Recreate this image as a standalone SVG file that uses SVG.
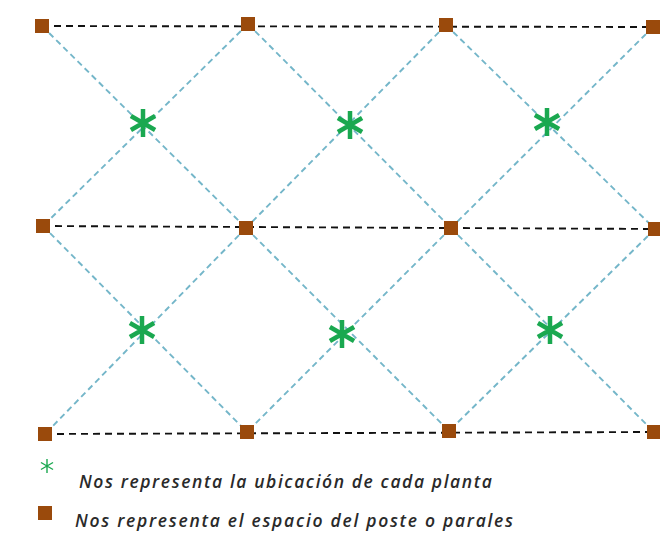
<svg xmlns="http://www.w3.org/2000/svg" width="660" height="535" viewBox="0 0 660 535">
<style>
.row{stroke:#111;stroke-width:1.9;stroke-dasharray:7 5;fill:none}
.diag{stroke:#74b6c9;stroke-width:1.9;stroke-dasharray:6 4;fill:none}
.post{fill:#9a4a0c}
.plant{stroke:#1aa850;stroke-width:4.5;stroke-linecap:butt;fill:none}
.legend{font-family:"Open Sans","Liberation Sans",Arial,sans-serif;font-style:italic;font-weight:600;font-size:17.5px;fill:#2a2a2a}
</style>
<defs>
<g id="ast">
<path d="M0,-14V14M-12.1,-7L12.1,7M-12.1,7L12.1,-7"/>
</g>
</defs>
<rect width="660" height="535" fill="#fff"/>
<g id="connectors">
<path class="row" d="M42,26L653,27"/>
<path class="row" d="M43,226L655,229"/>
<path class="row" d="M45,434L654,432"/>
<path class="diag" d="M42,26L246,228M248,24L43,226"/>
<path class="diag" d="M248,24L451,228M446,25L246,228"/>
<path class="diag" d="M446,25L655,229M653,27L451,228"/>
<path class="diag" d="M43,226L247,432M246,228L45,434"/>
<path class="diag" d="M246,228L449,431M451,228L247,432"/>
<path class="diag" d="M451,228L654,432M655,229L449,431"/>
</g>
<g id="posts">
<rect id="post-1" class="post" x="35" y="19" width="14" height="14"/>
<rect id="post-2" class="post" x="241" y="17" width="14" height="14"/>
<rect id="post-3" class="post" x="439" y="18" width="14" height="14"/>
<rect id="post-4" class="post" x="646" y="20" width="14" height="14"/>
<rect id="post-5" class="post" x="36" y="219" width="14" height="14"/>
<rect id="post-6" class="post" x="239" y="221" width="14" height="14"/>
<rect id="post-7" class="post" x="444" y="221" width="14" height="14"/>
<rect id="post-8" class="post" x="648" y="222" width="14" height="14"/>
<rect id="post-9" class="post" x="38" y="427" width="14" height="14"/>
<rect id="post-10" class="post" x="240" y="425" width="14" height="14"/>
<rect id="post-11" class="post" x="442" y="424" width="14" height="14"/>
<rect id="post-12" class="post" x="647" y="425" width="14" height="14"/>
</g>
<g id="plants" class="plant">
<use id="plant-1" href="#ast" x="143" y="123"/>
<use id="plant-2" href="#ast" x="350" y="125"/>
<use id="plant-3" href="#ast" x="547" y="122"/>
<use id="plant-4" href="#ast" x="142" y="330"/>
<use id="plant-5" href="#ast" x="342" y="334"/>
<use id="plant-6" href="#ast" x="550" y="330"/>
</g>
<g id="legend">
<g class="plant" style="stroke-width:2.8"><use href="#ast" transform="translate(47,466) scale(0.5)"/></g>
<text class="legend" x="79" y="488" textLength="413" lengthAdjust="spacing">Nos representa la ubicación de cada planta</text>
<rect class="post" x="38" y="506" width="14" height="14"/>
<text class="legend" x="75" y="527" textLength="438" lengthAdjust="spacing">Nos representa el espacio del poste o parales</text>
</g>
</svg>
